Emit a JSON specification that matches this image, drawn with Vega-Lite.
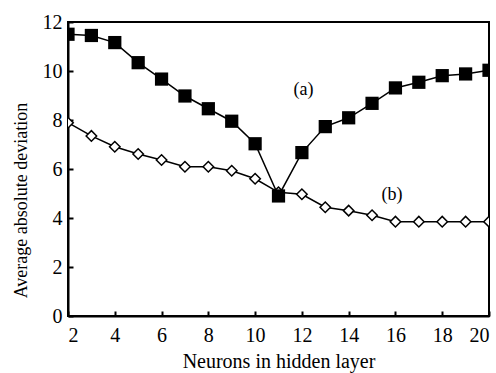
{
  "$schema": "https://vega.github.io/schema/vega-lite/v6.json",
  "width": 421,
  "height": 294,
  "autosize": "none",
  "padding": {"left": 68, "top": 22, "right": 7, "bottom": 57},
  "background": "white",
  "config": {
    "font": "Liberation Serif",
    "view": {"stroke": "black", "strokeWidth": 2},
    "axis": {"grid": false, "domainColor": "black", "domainWidth": 2, "tickColor": "black", "tickWidth": 2, "labelColor": "black", "titleColor": "black", "labelFont": "Liberation Serif", "titleFont": "Liberation Serif", "labelFontSize": 20, "titleFontSize": 19, "titleFontWeight": "normal"}
  },
  "datasets": {
    "series": [
      {"n": 2, "v": 11.5, "s": "a"}, {"n": 3, "v": 11.45, "s": "a"}, {"n": 4, "v": 11.16, "s": "a"},
      {"n": 5, "v": 10.34, "s": "a"}, {"n": 6, "v": 9.67, "s": "a"}, {"n": 7, "v": 8.98, "s": "a"},
      {"n": 8, "v": 8.46, "s": "a"}, {"n": 9, "v": 7.95, "s": "a"}, {"n": 10, "v": 7.03, "s": "a"},
      {"n": 11, "v": 4.9, "s": "a"}, {"n": 12, "v": 6.67, "s": "a"}, {"n": 13, "v": 7.73, "s": "a"},
      {"n": 14, "v": 8.09, "s": "a"}, {"n": 15, "v": 8.68, "s": "a"}, {"n": 16, "v": 9.31, "s": "a"},
      {"n": 17, "v": 9.54, "s": "a"}, {"n": 18, "v": 9.81, "s": "a"}, {"n": 19, "v": 9.88, "s": "a"},
      {"n": 20, "v": 10.03, "s": "a"},
      {"n": 2, "v": 7.89, "s": "b"}, {"n": 3, "v": 7.35, "s": "b"}, {"n": 4, "v": 6.91, "s": "b"},
      {"n": 5, "v": 6.61, "s": "b"}, {"n": 6, "v": 6.37, "s": "b"}, {"n": 7, "v": 6.09, "s": "b"},
      {"n": 8, "v": 6.09, "s": "b"}, {"n": 9, "v": 5.93, "s": "b"}, {"n": 10, "v": 5.6, "s": "b"},
      {"n": 11, "v": 5.05, "s": "b"}, {"n": 12, "v": 4.97, "s": "b"}, {"n": 13, "v": 4.44, "s": "b"},
      {"n": 14, "v": 4.3, "s": "b"}, {"n": 15, "v": 4.11, "s": "b"}, {"n": 16, "v": 3.85, "s": "b"},
      {"n": 17, "v": 3.85, "s": "b"}, {"n": 18, "v": 3.85, "s": "b"}, {"n": 19, "v": 3.85, "s": "b"},
      {"n": 20, "v": 3.85, "s": "b"}
    ],
    "labels": [
      {"n": 12.07, "v": 9.22, "t": "(a)"},
      {"n": 15.85, "v": 4.94, "t": "(b)"}
    ]
  },
  "encoding": {
    "x": {"field": "n", "type": "quantitative", "scale": {"domain": [2, 20], "nice": false},
      "axis": {"title": "Neurons in hidden layer", "titleFontSize": 20, "values": [2,4,6,8,10,12,14,16,18,20], "tickSize": -5, "labelPadding": 14, "titlePadding": 6}},
    "y": {"field": "v", "type": "quantitative", "scale": {"domain": [0, 12], "nice": false},
      "axis": {"title": "Average absolute deviation", "titleFontSize": 18, "titleY": 178, "values": [0,2,4,6,8,10,12], "tickSize": -5, "labelPadding": 11, "titlePadding": 12}}
  },
  "layer": [
    {
      "data": {"name": "series"},
      "mark": {"type": "line", "color": "black", "strokeWidth": 1.5},
      "encoding": {"detail": {"field": "s"}}
    },
    {
      "data": {"name": "series"},
      "transform": [{"filter": "datum.s === 'b'"}],
      "mark": {"type": "point", "shape": "diamond", "filled": true, "fill": "white", "stroke": "black", "strokeWidth": 1.5, "size": 110, "opacity": 1, "clip": true}
    },
    {
      "data": {"name": "series"},
      "transform": [{"filter": "datum.s === 'a'"}],
      "mark": {"type": "point", "shape": "square", "filled": true, "fill": "black", "size": 175, "opacity": 1, "clip": true}
    },
    {
      "data": {"name": "labels"},
      "mark": {"type": "text", "fontSize": 18, "font": "Liberation Serif", "color": "black"},
      "encoding": {"text": {"field": "t"}}
    }
  ]
}
